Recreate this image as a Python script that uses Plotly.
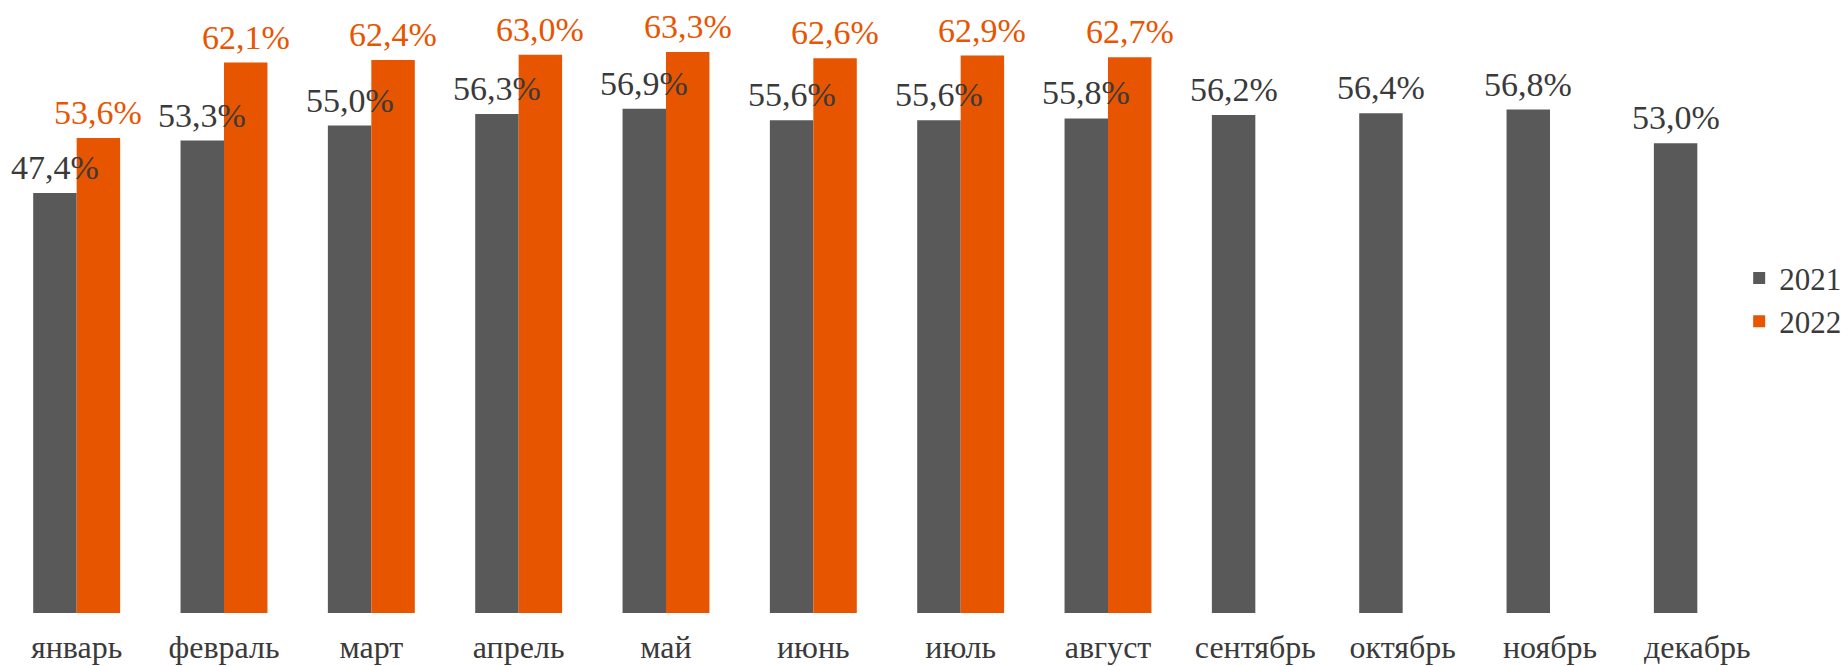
import plotly.graph_objects as go

# ── data ──────────────────────────────────────────────────────────────────────

MONTHS = ["январь", "февраль", "март", "апрель", "май", "июнь",
          "июль", "август", "сентябрь", "октябрь", "ноябрь", "декабрь"]

VALUES_2021 = [47.4, 53.3, 55.0, 56.3, 56.9, 55.6, 55.6, 55.8, 56.2, 56.4, 56.8, 53.0]
VALUES_2022 = [53.6, 62.1, 62.4, 63.0, 63.3, 62.6, 62.9, 62.7, None, None, None, None]

GRAY = "#595959"
ORANGE = "#E85500"
LABEL_GRAY = "#3A3A3A"
FONT = "Liberation Serif"
BAR_SHIFT = 21.7   # px from category centre to each bar centre

# ── figure ────────────────────────────────────────────────────────────────────

fig = go.Figure()
fig.add_trace(go.Bar(x=MONTHS, y=VALUES_2021, name="2021",
                     marker=dict(color=GRAY, line=dict(width=0))))
fig.add_trace(go.Bar(x=MONTHS, y=VALUES_2022, name="2022",
                     marker=dict(color=ORANGE, line=dict(width=0))))

# value labels as annotations so they sit on top of the neighbouring bar
for vals, shift, colour in [(VALUES_2021, -BAR_SHIFT, LABEL_GRAY),
                            (VALUES_2022, BAR_SHIFT, ORANGE)]:
    for m, v in zip(MONTHS, vals):
        if v is None:
            continue
        fig.add_annotation(
            x=m, y=v, text=f"{v:.1f}%".replace(".", ","),
            showarrow=False, xshift=shift, yshift=5,
            xanchor="center", yanchor="bottom",
            font=dict(family=FONT, size=34, color=colour),
        )

fig.update_layout(
    width=1848, height=666,
    barmode="group", bargap=0.41, bargroupgap=0,
    plot_bgcolor="white", paper_bgcolor="white",
    margin=dict(l=3, r=77, t=5, b=53, autoexpand=False),
    font=dict(family=FONT, size=30, color=LABEL_GRAY),
    xaxis=dict(showline=False, ticks="", ticklabelstandoff=12, automargin=False,
               tickfont=dict(family=FONT, size=32, color=LABEL_GRAY)),
    yaxis=dict(visible=False, range=[0, 68.6], showgrid=False, zeroline=False),
    legend=dict(x=0.982, xanchor="left", y=0.515, yanchor="middle",
                font=dict(family=FONT, size=31, color=LABEL_GRAY),
                tracegroupgap=18, bgcolor="rgba(0,0,0,0)"),
)

# drop the browser's default 8px body margin so the figure fills the window
fig.write_html("out.html", config={"displayModeBar": False},
               post_script="document.body.style.margin='0';")
